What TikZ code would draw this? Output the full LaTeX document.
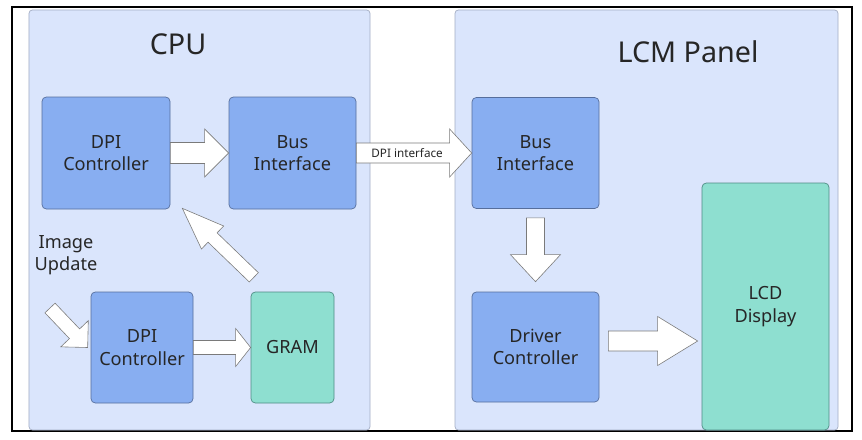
\documentclass[tikz,border=0pt]{standalone}
\usepackage{fontspec}
\setmainfont{Noto Sans}
\usepackage{tikz}
\usetikzlibrary{positioning}
\usetikzlibrary{calc}
\definecolor{panelblue}{HTML}{DAE5FC}
\definecolor{paneledge}{HTML}{A4AEC4}
\definecolor{blockblue}{HTML}{88AEF1}
\definecolor{blockedge}{HTML}{566E9C}
\definecolor{memteal}{HTML}{8EDFD0}
\definecolor{memedge}{HTML}{4F8C84}
\definecolor{arredge}{HTML}{7A7A7A}
\tikzset{panel/.style = {draw=paneledge, fill=panelblue, rounded corners=1mm,
                         line width=0.6pt, inner sep=0}}
\tikzset{block/.style = {draw=blockedge, fill=blockblue, rounded corners=1.3mm,
                         line width=0.6pt, inner sep=0, align=center, text=black!85,
                         font=\fontsize{15.5}{19}\selectfont}}
\tikzset{memblock/.style = {block, draw=memedge, fill=memteal}}
\tikzset{title/.style = {text=black!85, font=\fontsize{24.5}{28}\selectfont}}
\tikzset{blockarr/.style = {draw=arredge, fill=white, line width=0.5pt, line join=miter}}
% tail, tip, shaft half width, head half width, head length
\newcommand{\blockarrow}[5]{%
  \coordinate (ba-h) at ($(#2)!#5!(#1)$);
  \draw [blockarr] ($(#1)!#3!90:(#2)$) -- ($(ba-h)!#3!-90:(#1)$)
    -- ($(ba-h)!#4!-90:(#1)$) -- (#2) -- ($(ba-h)!#4!90:(#1)$)
    -- ($(ba-h)!#3!90:(#1)$) -- ($(#1)!#3!-90:(#2)$) -- cycle;
}

\begin{document}
\begin{tikzpicture}[x=0.3mm, y=-0.3mm]
    \useasboundingbox [fill=white] (0,0) rectangle (862,439);
    \draw [line width=1pt] (12,7) rectangle (852,431);

    \node [panel, minimum width=102.3mm, minimum height=126mm] (cpu) at (199.5,220) {};
    \node [panel, minimum width=114.9mm, minimum height=126mm] (lcm) at (646.5,220) {};
    \node [title] (cputitle) at (178,44) {CPU};
    \node [title] (lcmtitle) at (688,52) {LCM Panel};

    \node [block, minimum width=38.4mm, minimum height=33.6mm] (dpi1) at (106,153) {DPI\\Controller};
    \node [block, minimum width=38.1mm, minimum height=33.6mm] (bus1) at (292.5,153) {Bus\\Interface};
    \node [block, minimum width=38.1mm, minimum height=33.3mm] (bus2) at (535.5,153) {Bus\\Interface};
    \node [block, minimum width=38.1mm, minimum height=33mm] (drv) at (535.5,347) {Driver\\Controller};
    \node [memblock, minimum width=38.1mm, minimum height=74.1mm] (lcd) at (765.5,306.5) {LCD\\Display};
    \node [block, minimum width=30.6mm, minimum height=33.3mm] (dpi2) at (142,347.5) {DPI\\Controller};
    \node [memblock, minimum width=24.9mm, minimum height=33.3mm] (gram) at (292.5,347.5) {GRAM};
    \node [align=center, text=black!85, font=\fontsize{15.5}{19}\selectfont] (upd) at (66,255) {Image\\Update};

    \coordinate (updtail) at (50,308);
    \coordinate (bustail) at ([yshift=-2.7mm]bus2.south);
    \coordinate (drvtip) at ([yshift=3mm]drv.north);
    \coordinate (drvtail) at ([shift={(2.7mm,1.8mm)}]drv.east);
    \coordinate (lcdtip) at ([xshift=-1.2mm]drvtail -| lcd.west);
    \coordinate (gramtail) at ([shift={(-11.6mm,4.3mm)}]gram.north);
    \coordinate (dpitip) at ([shift={(3.6mm,0.3mm)}]dpi1.south east);

    \blockarrow{dpi1.east}{bus1.west}{3.15mm}{7.2mm}{7.2mm}
    \blockarrow{bus1.east}{bus2.west}{3mm}{7.2mm}{6.6mm}
    \node [font=\fontsize{10}{12}\selectfont, text=black!85] (dpiif) at ($(bus1.east)!0.44!(bus2.west)$) {DPI interface};
    \blockarrow{bustail}{drvtip}{2.7mm}{7.5mm}{8.1mm}
    \blockarrow{drvtail}{lcdtip}{3mm}{7.35mm}{12mm}
    \blockarrow{dpi2.east}{gram.west}{2.1mm}{5.7mm}{4.5mm}
    \blockarrow{gramtail}{dpitip}{1.95mm}{4.8mm}{12.6mm}
    \blockarrow{updtail}{[xshift=-0.9mm]dpi2.west}{2.1mm}{5.7mm}{5.7mm}
\end{tikzpicture}
\end{document}
